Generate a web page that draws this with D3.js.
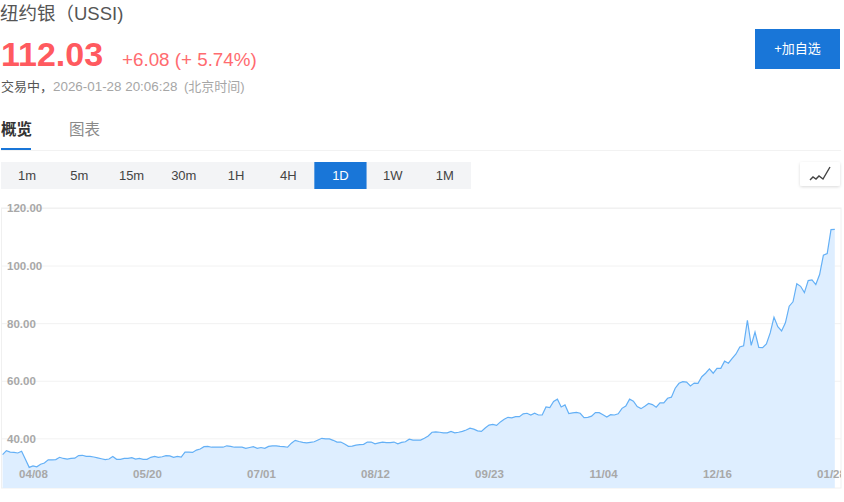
<!DOCTYPE html>
<html>
<head>
<meta charset="utf-8">
<script src="https://cdn.jsdelivr.net/npm/d3@7"></script>
<style>
  html, body { margin: 0; padding: 0; background: #fff; overflow: hidden; }
  svg { display: block; }
  text { font-family: "Liberation Sans", "Noto Sans CJK SC", sans-serif; }
  .grid-lines .domain, .grid-labels .domain, .grid-labels line { display: none; }
  .grid-lines line { stroke: #f2f2f2; }
  .grid-labels text, .time-axis text { fill: #a8a8a8; font-size: 11.5px; font-weight: 700; }
  .time-axis .domain, .time-axis line { display: none; }
</style>
</head>
<body>
<svg></svg>
<script>
const width = 844;
const height = 502;

// daily closes
const prices = [
  34.3, 35.7, 35.2, 35.1, 34.9, 35.5, 32.7, 29.9, 30.4, 30.1,
  31.0, 31.4, 32.5, 32.5, 32.6, 33.4, 33.0, 32.8, 33.0, 33.1,
  34.0, 34.1, 33.7, 33.7, 33.5, 33.2, 32.9, 32.6, 32.8, 33.7,
  32.7, 32.7, 33.0, 33.0, 33.3, 32.8, 33.0, 32.7, 32.7, 33.4,
  33.7, 33.4, 33.6, 34.0, 33.9, 33.4, 33.7, 33.5, 35.2, 35.2,
  35.1, 35.9, 36.3, 37.1, 37.2, 36.9, 36.9, 36.9, 36.9, 37.4,
  37.2, 36.9, 36.9, 36.9, 36.5, 36.8, 37.1, 36.5, 36.8, 36.5,
  37.2, 37.4, 37.4, 37.2, 37.1, 36.9, 38.3, 39.3, 38.9, 38.6,
  38.4, 38.6, 38.8, 39.4, 40.0, 39.8, 39.8, 39.3, 38.7, 38.7,
  38.0, 37.2, 37.3, 37.6, 37.8, 37.9, 38.7, 38.7, 38.1, 38.4,
  38.7, 38.5, 38.5, 38.7, 38.1, 38.6, 38.8, 39.7, 39.4, 39.4,
  39.4, 40.0, 40.8, 42.1, 42.2, 42.1, 41.9, 41.9, 42.4, 41.9,
  42.1, 42.4, 42.9, 43.5, 43.2, 42.6, 42.4, 43.6, 44.6, 44.8,
  44.5, 45.7, 46.6, 47.3, 47.1, 47.5, 47.5, 48.5, 48.7, 48.1,
  48.7, 48.1, 48.1, 50.9, 50.7, 52.8, 53.6, 50.9, 51.6, 48.6,
  48.8, 49.0, 48.7, 47.2, 47.3, 47.7, 48.9, 48.9, 48.2, 47.4,
  48.2, 48.1, 48.5, 50.4, 51.2, 53.6, 52.9, 51.0, 50.3, 51.1,
  52.1, 51.7, 50.8, 52.3, 52.3, 53.9, 54.3, 57.4, 59.1, 59.7,
  59.5, 58.2, 59.2, 59.1, 61.4, 62.6, 64.1, 62.6, 64.3, 64.3,
  66.8, 66.1, 67.8, 69.3, 71.7, 72.1, 81.0, 72.3, 76.9, 71.6,
  71.5, 72.8, 76.6, 82.1, 78.8, 77.3, 80.1, 85.9, 87.4, 93.7,
  92.8, 90.6, 94.8, 95.0, 93.4, 96.9, 103.6, 104.2, 112.5, 112.6
];

const priceTicks = [40, 60, 80, 100, 120];
const dateLabels = ["04/08", "05/20", "07/01", "08/12", "09/23", "11/04", "12/16", "01/28"];
const dateTickIndex = [8, 38, 68, 98, 128, 158, 188, 218];
const intervals = ["1m", "5m", "15m", "30m", "1H", "4H", "1D", "1W", "1M"];
const activeInterval = "1D";

const plot = { left: 1.5, right: 841, top: 208, bottom: 488 };

const svg = d3.select("svg")
    .attr("width", width)
    .attr("height", height);

function label(x, y, text, size, color, weight) {
    return svg.append("text")
        .attr("x", x)
        .attr("y", y)
        .attr("font-size", size)
        .attr("font-weight", weight || 400)
        .attr("fill", color)
        .text(text);
}

// Header
label(0, 20, "纽约银（USSI)", 18.5, "#555");
label(1, 66, "112.03", 34, "#ff5a5f", 700);
label(122, 66, "+6.08 (+ 5.74%)", 18.8, "#ff6b6f");
label(1, 91, "交易中，", 13, "#555");
label(53, 91, "2026-01-28 20:06:28", 13.4, "#a6a6a6");
label(184, 91, "(北京时间)", 13, "#a6a6a6");

// Tabs
label(1, 135, "概览", 15.5, "#333", 700);
label(69, 135, "图表", 15.5, "#8a8a8a");
svg.append("rect").attr("x", 1).attr("y", 150).attr("width", 840).attr("height", 1).attr("fill", "#f2f2f2");
svg.append("rect").attr("x", 1).attr("y", 148).attr("width", 30).attr("height", 2).attr("fill", "#1976d8");

// Add to watchlist button
svg.append("rect").attr("x", 755).attr("y", 29).attr("width", 85).attr("height", 40).attr("fill", "#1976d8");
label(797.5, 53, "+加自选", 13, "#fff").attr("text-anchor", "middle");

// Interval buttons
const intervalX = d3.scaleBand().domain(intervals).range([1, 471]);
const intervalGroup = svg.append("g");
intervalGroup.append("rect")
    .attr("x", 1).attr("y", 162).attr("width", 470).attr("height", 27)
    .attr("fill", "#f3f4f6");
intervalGroup.selectAll("rect.active")
    .data(intervals.filter(d => d === activeInterval))
    .join("rect")
    .attr("class", "active")
    .attr("x", d => intervalX(d))
    .attr("y", 162)
    .attr("width", intervalX.bandwidth())
    .attr("height", 27)
    .attr("fill", "#1976d8");
intervalGroup.selectAll("text")
    .data(intervals)
    .join("text")
    .attr("x", d => intervalX(d) + intervalX.bandwidth() / 2)
    .attr("y", 180)
    .attr("text-anchor", "middle")
    .attr("font-size", 13)
    .attr("fill", d => d === activeInterval ? "#fff" : "#444")
    .text(d => d);

// Line type toggle
const defs = svg.append("defs");
defs.append("filter").attr("id", "soft").attr("x", "-20%").attr("y", "-20%").attr("width", "140%").attr("height", "150%")
    .append("feDropShadow").attr("dx", 0).attr("dy", 1).attr("stdDeviation", 1.5).attr("flood-color", "#000").attr("flood-opacity", 0.15);
svg.append("rect").attr("x", 800).attr("y", 162).attr("width", 40).attr("height", 24).attr("rx", 2)
    .attr("fill", "#fff").attr("filter", "url(#soft)");
svg.append("path")
    .attr("d", "M810,180 L813,177 L816,179 L819,176 L823,179 L830,167")
    .attr("fill", "none").attr("stroke", "#444").attr("stroke-width", 1.4);

// Chart
const x = d3.scaleLinear().domain([0, prices.length - 1]).range([2.6, 834.8]);
const y = d3.scaleLinear().domain([40, 120]).range([438.3, 208]);

defs.append("clipPath").attr("id", "plot-clip")
    .append("rect").attr("x", 0).attr("y", -300).attr("width", plot.right).attr("height", height);

// Grid goes under the fill, labels go on top of it
svg.append("g")
    .attr("class", "grid-lines")
    .attr("transform", `translate(${plot.left},0)`)
    .call(d3.axisRight(y)
        .tickValues(priceTicks)
        .tickSize(plot.right - plot.left)
        .tickFormat(""));

svg.append("rect")
    .attr("x", plot.left).attr("y", plot.top)
    .attr("width", plot.right - plot.left).attr("height", plot.bottom - plot.top)
    .attr("fill", "none").attr("stroke", "#f0f0f0");

const area = d3.area()
    .x((d, i) => x(i))
    .y0(plot.bottom)
    .y1(d => y(d));

const line = d3.line()
    .x((d, i) => x(i))
    .y(d => y(d));

svg.append("path").datum(prices)
    .attr("d", area)
    .attr("fill", "#deeeff");

svg.append("path").datum(prices)
    .attr("d", line)
    .attr("fill", "none")
    .attr("stroke", "#64b0f6")
    .attr("stroke-width", 1.2);

svg.append("g")
    .attr("class", "grid-labels")
    .attr("transform", `translate(${plot.left},0)`)
    .call(d3.axisRight(y)
        .tickValues(priceTicks)
        .tickSize(0)
        .tickFormat(d3.format(".2f")))
    .call(g => g.selectAll("text").attr("x", 5.5).attr("dy", "0.34em"));

svg.append("g")
    .attr("class", "time-axis")
    .attr("clip-path", "url(#plot-clip)")
    .attr("transform", "translate(0,461)")
    .call(d3.axisBottom(x)
        .tickValues(dateTickIndex)
        .tickFormat((d, i) => dateLabels[i]));
</script>
</body>
</html>
